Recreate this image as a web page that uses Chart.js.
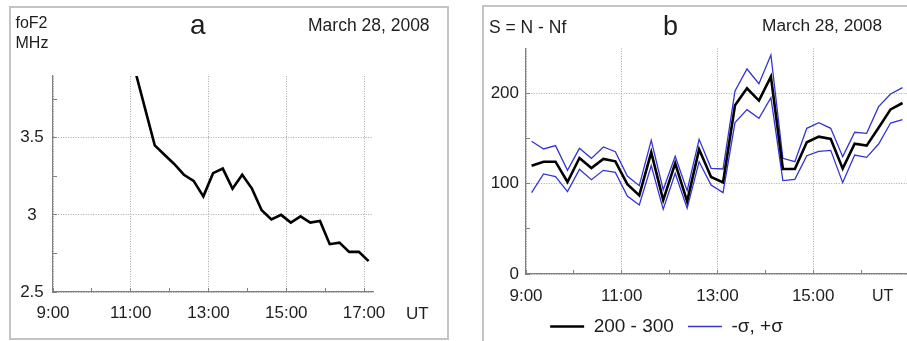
<!DOCTYPE html>
<html><head><meta charset="utf-8">
<script src="https://cdn.jsdelivr.net/npm/chart.js@4.4.0/dist/chart.umd.min.js"></script>
<style>
html,body{margin:0;padding:0;background:#fff;width:907px;height:341px;overflow:hidden;}
body{position:relative;font-family:"Liberation Sans",Arial,sans-serif;color:#1e1e1e;}
.frame{position:absolute;border:2px solid #c4c4c4;box-sizing:border-box;}
.t{position:absolute;white-space:nowrap;line-height:1;}
canvas{position:absolute;}
</style></head><body>
<div class="frame" style="left:9px;top:6px;width:440px;height:334px;"></div>
<div class="frame" style="left:482px;top:5px;width:440px;height:350px;"></div>
<canvas id="ca" width="438" height="332" style="left:10px;top:7px"></canvas>
<canvas id="cb" width="481" height="339" style="left:426px;top:7px"></canvas>
<div class="t" style="left:15.5px;top:12.6px;font-size:16px;line-height:20px">foF2<br>MHz</div>
<div class="t" style="left:190px;top:11.3px;font-size:28px">a</div>
<div class="t" style="left:308px;top:17.3px;font-size:17.5px">March 28, 2008</div>
<div class="t" style="left:406px;top:304.6px;font-size:17px">UT</div>
<div class="t" style="left:489px;top:18.5px;font-size:17.5px">S = N - Nf</div>
<div class="t" style="left:663px;top:12.5px;font-size:27px">b</div>
<div class="t" style="left:762px;top:17.1px;font-size:17.3px">March 28, 2008</div>
<div class="t" style="left:872px;top:287.5px;font-size:16px">UT</div>
<script>
// ---- data ----
const timesA = ['11:07','11:22','11:37','11:52','12:07','12:22','12:37','12:52','13:07','13:22','13:37','13:52','14:07','14:22','14:37','14:52','15:07','15:22','15:37','15:52','16:07','16:22','16:37','16:52','17:07'];
const foF2 = [3.93,3.69,3.45,3.39,3.33,3.26,3.22,3.12,3.27,3.30,3.17,3.26,3.17,3.03,2.97,3.00,2.95,2.99,2.95,2.96,2.81,2.82,2.76,2.76,2.70];

const timesB = ['9:07','9:22','9:37','9:52','10:07','10:22','10:37','10:52','11:07','11:22','11:37','11:52','12:07','12:22','12:37','12:52','13:07','13:22','13:37','13:52','14:07','14:22','14:37','14:52','15:07','15:22','15:37','15:52','16:07','16:22','16:37','16:52'];
const s200_300 = [120.1,124.5,124.5,102.0,128.6,117.5,127.5,124.9,99.6,87.2,134.9,82.0,122.7,80.5,138.2,107.5,101.6,187.0,205.8,192.2,218.8,116.4,116.4,146.0,152.3,149.7,116.8,144.5,142.3,162.2,182.5,189.6];
const sPlusSigma = [147.1,138.6,142.3,114.9,139.3,128.2,140.8,135.6,108.6,97.9,148.2,93.5,130.5,92.4,149.3,117.2,116.4,202.9,227.3,211.0,242.8,128.2,124.5,161.5,167.8,161.5,130.1,157.1,156.0,185.5,199.6,206.6];
const sMinusSigma = [90.2,110.9,107.9,91.3,116.0,104.6,114.9,112.7,86.5,76.5,120.1,71.7,111.6,72.8,124.5,98.7,90.2,167.8,182.2,172.6,195.5,103.5,105.0,131.2,136.0,137.1,101.3,131.9,129.3,144.1,167.4,171.1];

const xTicksA = ['9:00','11:00','13:00','15:00','17:00'];
const yTicksA = ['2.5','3','3.5'];
const xTicksB = ['9:00','11:00','13:00','15:00'];
const yTicksB = ['0','100','200'];
const seriesNames = ['200 - 300', '-σ, +σ'];

// ---- helpers ----
function hours(s){ const p = s.split(':').map(Number); return p[0] + p[1]/60; }
function pts(times, vals){ return times.map((t,i)=>({x:hours(t), y:vals[i]})); }
const near = (a,b)=>Math.abs(a-b)<1e-6;
function labelFor(list, v, parse){ const f = list.find(l=>near(parse(l), v)); return f===undefined ? '' : f; }

const AXIS = '#808080', GRID = '#a8a8a8', TXT = '#1e1e1e', BLUE = '#3434d4';
Chart.defaults.font.family = '"Liberation Sans", Arial, sans-serif';
Chart.defaults.color = TXT;

function axis(o){
  return {
    type:'linear', min:o.min, max:o.max, position:o.position,
    afterFit:o.fit,
    afterBuildTicks: s => { if (o.below !== undefined) s.ticks = s.ticks.filter(t => t.value < o.below); },
    border:{display:true, color:AXIS, width:1.2, dash:[1,1.5]},
    grid:{
      color: c => (c.tick && o.labels.some(l=>near(o.parse(l), c.tick.value))) ? GRID : 'rgba(0,0,0,0)',
      lineWidth:1, drawTicks:true, tickLength:-4, tickColor:AXIS, tickWidth:1
    },
    ticks:{
      stepSize:o.step, includeBounds:false, autoSkip:false, maxRotation:0, minRotation:0,
      padding:o.pad, crossAlign:o.cross||'near', color:TXT, font:{size:17},
      callback: v => labelFor(o.labels, v, o.parse)
    }
  };
}

new Chart(document.getElementById('ca'), {
  type:'line',
  data:{ datasets:[{
    data: pts(timesA, foF2), borderColor:'#000', borderWidth:2.6, pointRadius:0, tension:0, clip:0, fill:false
  }]},
  options:{
    responsive:false, animation:false, events:[],
    layout:{padding:{top:69, right:75, bottom:0, left:0}},
    plugins:{legend:{display:false}, tooltip:{enabled:false}},
    scales:{
      x: axis({min:9, max:17.23, position:'bottom', step:1, pad:15.6, labels:xTicksA, parse:hours, fit:s=>{s.height=47;}}),
      y: axis({min:2.5, max:3.9, position:'left', step:0.25, pad:13.2, cross:'center', labels:yTicksA, parse:parseFloat, fit:s=>{s.width=43;}})
    }
  }
});

new Chart(document.getElementById('cb'), {
  type:'line',
  data:{ datasets:[
    {label:seriesNames[0], data: pts(timesB, s200_300), borderColor:'#000', borderWidth:2.6, pointRadius:0, tension:0, clip:0, fill:false},
    {label:seriesNames[1], data: pts(timesB, sPlusSigma), borderColor:BLUE, borderWidth:1.3, pointRadius:0, tension:0, clip:0, fill:false},
    {label:seriesNames[1], data: pts(timesB, sMinusSigma), borderColor:BLUE, borderWidth:1.3, pointRadius:0, tension:0, clip:0, fill:false}
  ]},
  options:{
    responsive:false, animation:false, events:[],
    layout:{padding:{top:41.5, right:0, bottom:0, left:0}},
    plugins:{
      tooltip:{enabled:false},
      legend:{display:true, position:'bottom', align:'center',
        labels:{usePointStyle:true, pointStyle:'line', pointStyleWidth:34, padding:14, color:TXT, font:{size:19},
          filter: item => item.datasetIndex < 2}}
    },
    scales:{
      x: axis({min:9, max:16.96, position:'bottom', step:1, pad:16, labels:xTicksB, parse:hours, fit:s=>{s.height=29;}}),
      y: axis({min:0, max:250, below:250, position:'left', step:50, pad:11, labels:yTicksB, parse:parseFloat, fit:s=>{s.width=100;}})
    }
  }
});
</script>
</body></html>
